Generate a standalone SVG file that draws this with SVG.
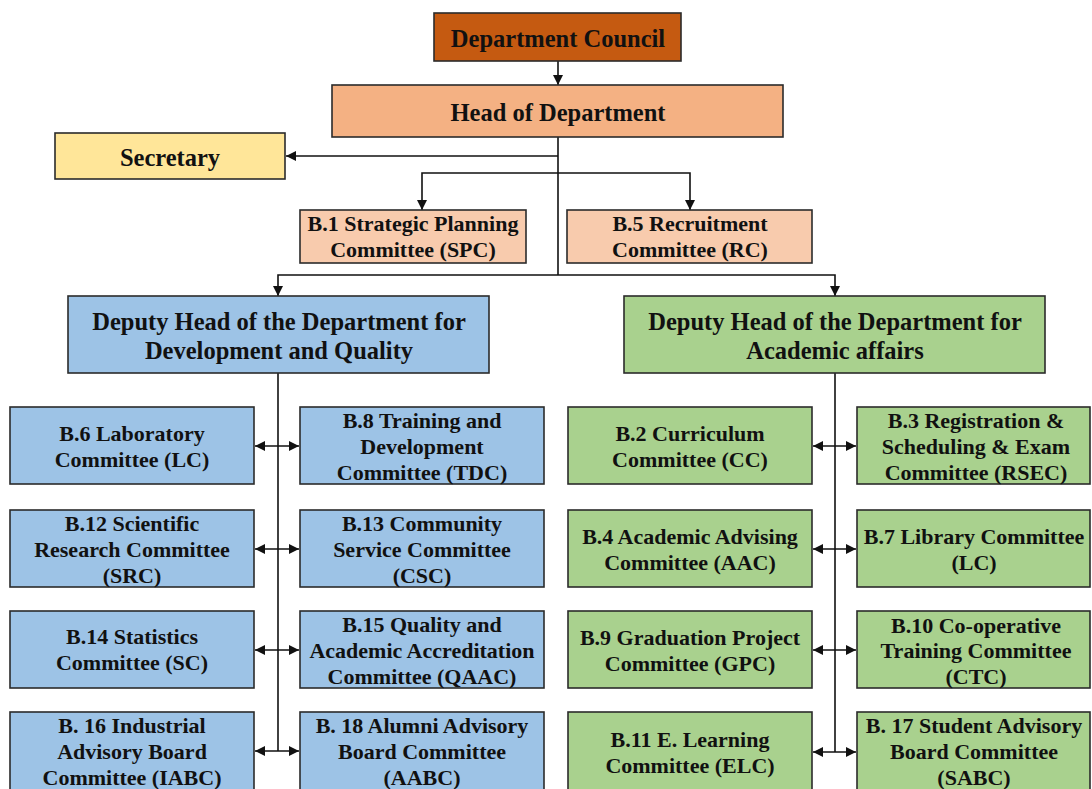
<svg xmlns="http://www.w3.org/2000/svg" width="1092" height="789" viewBox="0 0 1092 789">
<defs>
<marker id="ah" viewBox="0 0 10 10" refX="10" refY="5" markerWidth="10" markerHeight="10" markerUnits="userSpaceOnUse" orient="auto-start-reverse"><path d="M0,0 L10,5 L0,10 z" fill="#111"/></marker>
<style>
.b{stroke:#2b2b2b;stroke-width:1.6}
.t{font-family:"Liberation Serif","Times New Roman",serif;font-weight:bold;fill:#111;text-anchor:middle}
.s24{font-size:24.5px}
.s22{font-size:22px}
.dc{fill:#C55A11}.hd{fill:#F4B183}.sc{fill:#FFE699}.cm{fill:#F8CBAD}.bl{fill:#9DC3E6}.gr{fill:#A9D18E}
.c{fill:none;stroke:#111;stroke-width:1.6}
</style>
</defs>
<rect width="1092" height="789" fill="#fff"/>
<g id="connectors">
<path class="c" d="M558,61 V85" marker-end="url(#ah)"/>
<path class="c" d="M558,137 V275"/>
<path class="c" d="M558,156 H286" marker-end="url(#ah)"/>
<path class="c" d="M422,210 V173 H690 V210" marker-start="url(#ah)" marker-end="url(#ah)"/>
<path class="c" d="M278,296 V275 H835 V296" marker-start="url(#ah)" marker-end="url(#ah)"/>
<path class="c" d="M278,373 V751"/>
<path class="c" d="M835,373 V752"/>
<path class="c" d="M255,446 H299" marker-start="url(#ah)" marker-end="url(#ah)"/>
<path class="c" d="M255,549 H299" marker-start="url(#ah)" marker-end="url(#ah)"/>
<path class="c" d="M255,650 H299" marker-start="url(#ah)" marker-end="url(#ah)"/>
<path class="c" d="M255,751 H299" marker-start="url(#ah)" marker-end="url(#ah)"/>
<path class="c" d="M813,446 H856" marker-start="url(#ah)" marker-end="url(#ah)"/>
<path class="c" d="M813,549 H856" marker-start="url(#ah)" marker-end="url(#ah)"/>
<path class="c" d="M813,650 H856" marker-start="url(#ah)" marker-end="url(#ah)"/>
<path class="c" d="M813,752 H856" marker-start="url(#ah)" marker-end="url(#ah)"/>
</g>
<g id="council"><rect class="b dc" x="434" y="13" width="247" height="48"/><text class="t s24" x="558" y="47">Department Council</text></g>
<g id="head"><rect class="b hd" x="332" y="85" width="451" height="52"/><text class="t s24" x="558" y="121">Head of Department</text></g>
<g id="secretary"><rect class="b sc" x="55" y="133" width="230" height="46"/><text class="t s24" x="170" y="166">Secretary</text></g>
<g id="b1"><rect class="b cm" x="300" y="210" width="226" height="53"/><text class="t s22" x="413" y="231">B.1 Strategic Planning</text><text class="t s22" x="413" y="257">Committee (SPC)</text></g>
<g id="b5"><rect class="b cm" x="567" y="210" width="245" height="53"/><text class="t s22" x="690" y="231">B.5 Recruitment</text><text class="t s22" x="690" y="257">Committee (RC)</text></g>
<g id="deputy-dq"><rect class="b bl" x="68" y="296" width="421" height="77"/><text class="t s24" x="279" y="330">Deputy Head of the Department for</text><text class="t s24" x="279" y="359">Development and Quality</text></g>
<g id="deputy-aa"><rect class="b gr" x="624" y="296" width="421" height="77"/><text class="t s24" x="835" y="330">Deputy Head of the Department for</text><text class="t s24" x="835" y="359">Academic affairs</text></g>
<g id="b6"><rect class="b bl" x="10" y="407" width="244" height="77"/><text class="t s22" x="132" y="441">B.6 Laboratory</text><text class="t s22" x="132" y="467">Committee (LC)</text></g>
<g id="b8"><rect class="b bl" x="300" y="407" width="244" height="77"/><text class="t s22" x="422" y="428">B.8 Training and</text><text class="t s22" x="422" y="454">Development</text><text class="t s22" x="422" y="480">Committee (TDC)</text></g>
<g id="b12"><rect class="b bl" x="10" y="510" width="244" height="77"/><text class="t s22" x="132" y="531">B.12 Scientific</text><text class="t s22" x="132" y="557">Research Committee</text><text class="t s22" x="132" y="583">(SRC)</text></g>
<g id="b13"><rect class="b bl" x="300" y="510" width="244" height="77"/><text class="t s22" x="422" y="531">B.13 Community</text><text class="t s22" x="422" y="557">Service Committee</text><text class="t s22" x="422" y="583">(CSC)</text></g>
<g id="b14"><rect class="b bl" x="10" y="611" width="244" height="77"/><text class="t s22" x="132" y="644">B.14 Statistics</text><text class="t s22" x="132" y="670">Committee (SC)</text></g>
<g id="b15"><rect class="b bl" x="300" y="611" width="244" height="77"/><text class="t s22" x="422" y="632">B.15 Quality and</text><text class="t s22" x="422" y="658">Academic Accreditation</text><text class="t s22" x="422" y="684">Committee (QAAC)</text></g>
<g id="b16"><rect class="b bl" x="10" y="712" width="244" height="82"/><text class="t s22" x="132" y="733">B. 16 Industrial</text><text class="t s22" x="132" y="759">Advisory Board</text><text class="t s22" x="132" y="785">Committee (IABC)</text></g>
<g id="b18"><rect class="b bl" x="300" y="712" width="244" height="82"/><text class="t s22" x="422" y="733">B. 18 Alumni Advisory</text><text class="t s22" x="422" y="759">Board Committee</text><text class="t s22" x="422" y="785">(AABC)</text></g>
<g id="b2"><rect class="b gr" x="568" y="407" width="244" height="77"/><text class="t s22" x="690" y="441">B.2 Curriculum</text><text class="t s22" x="690" y="467">Committee (CC)</text></g>
<g id="b3"><rect class="b gr" x="857" y="407" width="233" height="77"/><text class="t s22" x="976" y="428">B.3 Registration &amp;</text><text class="t s22" x="976" y="454">Scheduling &amp; Exam</text><text class="t s22" x="976" y="480">Committee (RSEC)</text></g>
<g id="b4"><rect class="b gr" x="568" y="510" width="244" height="77"/><text class="t s22" x="690" y="544">B.4 Academic Advising</text><text class="t s22" x="690" y="570">Committee (AAC)</text></g>
<g id="b7"><rect class="b gr" x="857" y="510" width="233" height="77"/><text class="t s22" x="974" y="544">B.7 Library Committee</text><text class="t s22" x="974" y="570">(LC)</text></g>
<g id="b9"><rect class="b gr" x="568" y="611" width="244" height="77"/><text class="t s22" x="690" y="645">B.9 Graduation Project</text><text class="t s22" x="690" y="671">Committee (GPC)</text></g>
<g id="b10"><rect class="b gr" x="857" y="611" width="233" height="77"/><text class="t s22" x="976" y="633">B.10 Co-operative</text><text class="t s22" x="976" y="658">Training Committee</text><text class="t s22" x="976" y="684">(CTC)</text></g>
<g id="b11"><rect class="b gr" x="568" y="712" width="244" height="82"/><text class="t s22" x="690" y="747">B.11 E. Learning</text><text class="t s22" x="690" y="773">Committee (ELC)</text></g>
<g id="b17"><rect class="b gr" x="857" y="712" width="233" height="82"/><text class="t s22" x="974" y="733">B. 17 Student Advisory</text><text class="t s22" x="974" y="759">Board Committee</text><text class="t s22" x="974" y="785">(SABC)</text></g>
</svg>
